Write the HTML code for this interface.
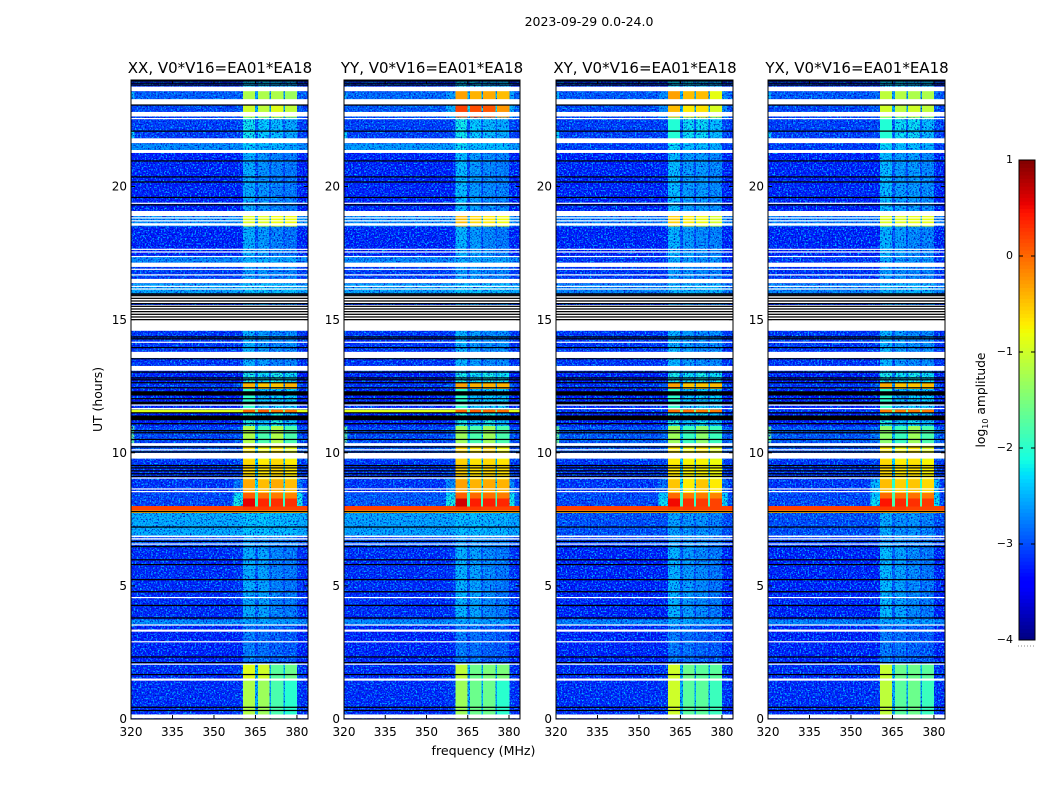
<!DOCTYPE html>
<html lang="en">
<head>
<meta charset="utf-8">
<title>2023-09-29 0.0-24.0</title>
<style>
html,body{margin:0;padding:0;background:#fff;}
svg{display:block;}
text{font-family:"DejaVu Sans","Liberation Sans",sans-serif;fill:#000;}
</style>
</head>
<body>
<svg id="chart" xmlns="http://www.w3.org/2000/svg" width="1050" height="800" viewBox="0 0 1050 800">
  <defs id="defs"></defs>
  <rect width="1050" height="800" fill="#fff"/>
  <text x="589" y="26" text-anchor="middle" font-size="12.5">2023-09-29 0.0-24.0</text>
  <text x="220" y="73" text-anchor="middle" font-size="15">XX, V0*V16=EA01*EA18</text>
  <text x="432" y="73" text-anchor="middle" font-size="15">YY, V0*V16=EA01*EA18</text>
  <text x="645" y="73" text-anchor="middle" font-size="15">XY, V0*V16=EA01*EA18</text>
  <text x="857" y="73" text-anchor="middle" font-size="15">YX, V0*V16=EA01*EA18</text>
  <text x="0" y="0" transform="translate(102,399.5) rotate(-90)" text-anchor="middle" font-size="12.4">UT (hours)</text>
  <text x="483.5" y="755" text-anchor="middle" font-size="12.6">frequency (MHz)</text>
  <text x="0" y="0" transform="translate(985,400) rotate(-90)" text-anchor="middle" font-size="12.3">log<tspan font-size="8" dy="3">10</tspan><tspan dy="-3"> amplitude</tspan></text>
  <g id="panels"></g>
  <g id="colorbar"></g>
</svg>
<script>
// ---- Data (UT hours, MHz, log10 amplitude) ----
const bandEdgesUT = [0,1.45,2.06,3.55,3.75,6.5,6.9,7.75,7.85,8.0,8.3,8.5,9.0,9.75,10.3,11.0,11.53,11.63,12.4,12.65,13.05,14.58,16.0,16.37,17.14,17.4,18.5,18.95,21.37,21.63,22.6,23.08,23.58,24];
const channelEdgesMHz = [320,357,360.5,364.8,365.9,369.9,370.6,375,375.6,380,382,384];
// which entry of a band row each channel group reads: bg, shoulder, gap, sub-band 1..4
const channelSeries = [0,1,3,2,4,2,5,2,6,1,0];
// band rows: [bg, shoulder, gap, sub1, sub2, sub3, sub4]
const levelsXX = [
[-3.25,-3.2,-2.5,-1.2,-1.3,-1.8,-2.0],[-3.25,-3.2,-2.4,-0.9,-1.0,-1.7,-1.6],[-3.3,-3.3,-3.1,-2.8,-2.85,-2.95,-3.0],[-2.7,-2.7,-2.65,-2.55,-2.55,-2.6,-2.6],
[-3.25,-3.2,-3.0,-2.5,-2.55,-2.75,-2.8],[-3.05,-3.05,-2.95,-2.6,-2.65,-2.75,-2.8],[-2.5,-2.5,-2.45,-2.35,-2.35,-2.4,-2.4],[-0.4,-0.4,-0.4,-0.4,-0.4,-0.4,-0.4],
[0.2,0.2,0.2,0.25,0.25,0.2,0.2],[-3.1,-2.1,-1.9,0.55,0.35,0.3,0.3],[-3.1,-2.2,-1.9,0.05,-0.05,-0.1,-0.15],[-3.2,-2.8,-2.2,-0.35,-0.45,-0.35,-0.45],[-3.2,-3.1,-2.3,-0.6,-0.7,-0.6,-0.7],
[-3.0,-3.0,-2.3,-0.7,-0.8,-0.7,-0.9],[-3.1,-3.0,-2.4,-1.2,-1.8,-1.2,-1.8],[-3.3,-3.3,-2.9,-2.1,-2.4,-2.1,-2.4],[-0.9,-0.9,-1.5,0.0,0.05,-0.1,-0.1],
[-3.3,-3.3,-2.9,-2.0,-2.4,-2.3,-2.3],[-3.2,-3.0,-2.6,-0.4,-0.5,-0.5,-0.4],[-3.3,-3.3,-2.8,-2.1,-2.2,-2.1,-2.2],[-3.2,-3.2,-3.0,-2.5,-2.6,-2.75,-2.7],
[-3.2,-3.2,-3.0,-2.6,-2.6,-2.75,-2.7],[-2.55,-2.55,-2.5,-2.35,-2.35,-2.4,-2.4],[-3.15,-3.15,-3.0,-2.6,-2.65,-2.75,-2.75],[-2.75,-2.75,-2.7,-2.5,-2.5,-2.55,-2.55],
[-3.3,-3.3,-3.05,-2.5,-2.6,-2.75,-2.85],[-2.7,-2.7,-2.55,-0.9,-0.9,-0.8,-0.8],[-3.3,-3.3,-3.05,-2.5,-2.65,-2.75,-2.8],[-2.7,-2.7,-2.6,-2.3,-2.45,-2.45,-2.55],
[-3.15,-3.1,-2.95,-2.15,-2.3,-2.4,-2.5],[-3.1,-3.0,-2.5,-1.0,-1.1,-0.9,-1.1],[-2.95,-2.95,-2.6,-1.2,-1.2,-1.2,-1.3],[-3.2,-3.2,-2.9,-2.3,-2.3,-2.45,-2.45]];
const levelsYY = [
[-3.25,-3.2,-2.5,-1.3,-1.6,-1.6,-2.0],[-3.25,-3.2,-2.4,-1.1,-1.6,-1.5,-1.5],[-3.3,-3.3,-3.1,-2.8,-2.85,-2.95,-3.0],[-2.7,-2.7,-2.65,-2.55,-2.55,-2.6,-2.6],
[-3.25,-3.2,-3.0,-2.45,-2.55,-2.7,-2.8],[-3.05,-3.05,-2.95,-2.6,-2.65,-2.75,-2.8],[-2.55,-2.55,-2.5,-2.4,-2.4,-2.45,-2.45],[-0.4,-0.4,-0.4,-0.4,-0.4,-0.4,-0.4],
[0.2,0.2,0.2,0.25,0.25,0.2,0.2],[-3.0,-2.1,-1.9,0.65,0.4,0.4,0.35],[-3.0,-2.2,-1.9,0.05,0.0,-0.05,-0.1],[-3.2,-2.7,-2.2,-0.3,-0.4,-0.35,-0.4],[-3.2,-3.1,-2.3,-0.55,-0.65,-0.6,-0.65],
[-3.0,-3.0,-2.3,-0.6,-0.7,-0.6,-0.8],[-3.1,-3.0,-2.4,-1.3,-1.8,-1.3,-1.8],[-3.3,-3.3,-2.9,-2.1,-2.4,-2.1,-2.4],[-0.9,-0.9,-1.5,0.0,0.05,-0.05,-0.05],
[-3.3,-3.3,-2.9,-2.0,-2.4,-2.3,-2.3],[-3.2,-3.0,-2.6,-0.3,-0.4,-0.4,-0.4],[-3.3,-3.3,-2.8,-2.1,-2.2,-2.1,-2.2],[-3.2,-3.2,-3.0,-2.45,-2.6,-2.7,-2.7],
[-3.2,-3.2,-3.0,-2.6,-2.6,-2.75,-2.7],[-2.55,-2.55,-2.5,-2.35,-2.35,-2.4,-2.4],[-3.15,-3.15,-3.0,-2.6,-2.65,-2.75,-2.75],[-2.75,-2.75,-2.7,-2.5,-2.5,-2.55,-2.55],
[-3.3,-3.3,-3.05,-2.45,-2.6,-2.7,-2.8],[-2.7,-2.7,-2.45,-0.45,-0.6,-0.7,-0.8],[-3.3,-3.3,-3.05,-2.4,-2.6,-2.7,-2.75],[-2.6,-2.6,-2.5,-2.2,-2.4,-2.4,-2.4],
[-3.15,-3.1,-2.95,-2.15,-2.3,-2.4,-2.5],[-3.0,-2.5,-2.2,0.2,0.15,0.1,-0.25],[-2.9,-2.6,-2.4,-0.3,-0.4,-0.35,-0.45],[-3.2,-3.2,-2.9,-2.3,-2.3,-2.45,-2.45]];
const levelsXY = [
[-3.25,-3.2,-2.5,-1.0,-1.7,-1.7,-1.9],[-3.25,-3.2,-2.4,-1.0,-1.6,-1.7,-1.7],[-3.3,-3.3,-3.1,-2.8,-2.85,-2.95,-3.0],[-2.75,-2.75,-2.7,-2.55,-2.55,-2.6,-2.6],
[-3.3,-3.3,-3.0,-2.45,-2.6,-2.7,-2.8],[-3.15,-3.15,-3.0,-2.6,-2.65,-2.75,-2.8],[-3.05,-3.05,-2.95,-2.55,-2.65,-2.65,-2.75],[-0.4,-0.4,-0.4,-0.4,-0.4,-0.4,-0.4],
[0.2,0.2,0.2,0.25,0.25,0.2,0.2],[-3.1,-2.2,-1.9,0.5,0.3,0.25,0.2],[-3.1,-2.3,-1.9,0.0,-0.1,-0.1,-0.15],[-3.2,-2.9,-2.2,-0.5,-0.7,-0.5,-0.7],[-3.2,-3.1,-2.3,-0.7,-0.75,-0.75,-0.8],
[-3.0,-3.0,-2.3,-0.7,-0.8,-0.7,-0.9],[-3.0,-2.9,-2.4,-1.3,-1.9,-1.4,-1.9],[-3.3,-3.3,-2.9,-2.1,-2.4,-2.2,-2.4],[-3.2,-3.2,-1.5,-0.05,-0.05,-0.1,-0.1],
[-3.3,-3.3,-2.9,-2.0,-2.4,-2.3,-2.3],[-3.2,-3.0,-2.6,-0.3,-0.5,-0.5,-0.45],[-3.3,-3.3,-2.8,-2.1,-2.2,-2.1,-2.2],[-3.2,-3.2,-3.0,-2.45,-2.6,-2.7,-2.7],
[-3.2,-3.2,-3.0,-2.6,-2.6,-2.75,-2.7],[-2.75,-2.75,-2.6,-2.45,-2.45,-2.45,-2.45],[-3.2,-3.2,-3.0,-2.6,-2.65,-2.75,-2.75],[-3.2,-3.2,-3.0,-2.5,-2.6,-2.65,-2.65],
[-3.3,-3.3,-3.05,-2.45,-2.6,-2.7,-2.75],[-2.8,-2.8,-2.55,-0.55,-0.7,-0.8,-0.95],[-3.3,-3.3,-3.05,-2.4,-2.6,-2.6,-2.7],[-3.15,-3.15,-2.95,-2.25,-2.4,-2.4,-2.5],
[-3.15,-3.1,-2.95,-2.05,-2.2,-2.2,-2.4],[-3.1,-2.7,-2.4,-0.45,-0.7,-0.65,-0.95],[-3.0,-2.7,-2.5,-0.3,-0.45,-0.45,-0.85],[-3.2,-3.2,-2.9,-2.3,-2.3,-2.45,-2.45]];
const levelsYX = [
[-3.25,-3.2,-2.5,-1.1,-1.7,-1.6,-1.9],[-3.25,-3.2,-2.4,-1.05,-1.6,-1.6,-1.7],[-3.3,-3.3,-3.1,-2.8,-2.85,-2.95,-3.0],[-2.75,-2.75,-2.7,-2.55,-2.55,-2.6,-2.6],
[-3.3,-3.3,-3.0,-2.4,-2.55,-2.7,-2.8],[-3.15,-3.15,-3.0,-2.6,-2.65,-2.75,-2.8],[-3.05,-3.05,-2.95,-2.5,-2.65,-2.65,-2.75],[-0.4,-0.4,-0.4,-0.4,-0.4,-0.4,-0.4],
[0.2,0.2,0.2,0.25,0.25,0.2,0.2],[-3.1,-2.2,-1.8,0.45,0.35,0.3,0.25],[-3.1,-2.3,-1.8,0.0,-0.05,-0.05,-0.1],[-3.2,-2.4,-2.0,-0.45,-0.55,-0.5,-0.6],[-3.2,-3.1,-2.3,-0.6,-0.7,-0.65,-0.75],
[-3.0,-3.0,-2.3,-0.7,-0.8,-0.7,-0.9],[-3.0,-2.8,-2.4,-1.4,-1.9,-1.3,-1.8],[-3.3,-3.3,-2.9,-2.1,-2.4,-2.2,-2.4],[-3.2,-3.2,-1.5,-0.1,-0.1,-0.1,-0.1],
[-3.3,-3.3,-2.9,-2.0,-2.4,-2.3,-2.3],[-3.2,-3.0,-2.6,-0.35,-0.5,-0.5,-0.45],[-3.3,-3.3,-2.8,-2.1,-2.2,-2.1,-2.2],[-3.2,-3.2,-3.0,-2.45,-2.6,-2.7,-2.7],
[-3.2,-3.2,-3.0,-2.6,-2.6,-2.75,-2.7],[-2.75,-2.75,-2.6,-2.45,-2.45,-2.45,-2.45],[-3.2,-3.2,-3.0,-2.6,-2.65,-2.75,-2.75],[-3.2,-3.2,-3.0,-2.5,-2.6,-2.65,-2.65],
[-3.3,-3.3,-3.05,-2.45,-2.6,-2.7,-2.75],[-2.8,-2.8,-2.55,-0.9,-0.9,-0.85,-0.85],[-3.3,-3.3,-3.05,-2.4,-2.6,-2.6,-2.7],[-3.15,-3.15,-2.95,-2.25,-2.4,-2.4,-2.5],
[-3.15,-3.1,-2.95,-2.05,-2.2,-2.2,-2.4],[-3.1,-3.0,-2.5,-1.0,-1.1,-1.0,-1.1],[-3.0,-2.9,-2.6,-1.1,-1.15,-1.2,-1.2],[-3.2,-3.2,-2.9,-2.3,-2.3,-2.45,-2.45]];
// bright low-frequency edge channels: [utLow, utHigh, level]
const edgeBands = [[10.3,11.0,-1.6],[21.75,22.1,-2.3],[23.3,23.55,-2.5]];
// flagged (blank) integrations: [utLow, utHigh]
const blankSpans = [[0.03,0.17],[1.44,1.52],[3.28,3.36],[6.83,6.89],[6.74,6.79],[9.78,9.99],[10.26,10.36],[13.08,13.26],[13.56,13.79],[14.58,15.55],[15.62,15.93],[16.37,16.53],[16.98,17.14],[18.53,18.62],[18.89,19.08],[21.26,21.37],[21.63,21.81],[22.63,22.80],[23.08,23.28],[23.58,23.75]];
const blankLines = [2.06,2.90,3.53,4.56,6.57,8.54,8.64,9.05,10.11,11.66,11.79,14.15,16.15,16.25,16.68,16.89,17.37,17.54,17.64,18.71,18.82,19.37,22.55];
// zero-valued integrations drawn black
const zeroSpans = [[3.77,3.82],[4.24,4.29],[5.21,5.26],[6.45,6.50],[11.22,11.40],[11.82,11.92],[12.15,12.31],[13.51,13.55],[15.93,15.99]];
const zeroLines = [0.32,0.44,1.67,2.12,2.33,4.78,5.80,5.98,6.67,7.21,7.79,9.11,9.21,9.32,9.43,9.52,10.03,10.22,10.50,10.75,10.83,11.09,11.50,12.03,12.44,12.63,12.74,12.81,13.03,13.95,14.28,14.35,15.0,15.1,15.2,15.3,15.4,15.5,15.6,15.7,15.8,15.9,19.31,19.59,20.17,20.36,20.96,22.08,23.06,23.81,23.88,23.96];
// axes
const freqTicks = [320,335,350,365,380];
const utTicks = [0,5,10,15,20];
const cbarTicks = [-4,-3,-2,-1,0,1];
const cbarTickLabels = ['\u22124','\u22123','\u22122','\u22121','0','1'];

// ---- Scales ----
const NS = 'http://www.w3.org/2000/svg';
const plotTop = 80, plotBottom = 719;
const freqMin = 320, freqMax = 384, utMin = 0, utMax = 24;
const cbarMin = -4, cbarMax = 1, cbarX0 = 1019, cbarX1 = 1035, cbarY0 = 640, cbarY1 = 160;
const brightCutoff = -2.1;
const panelDefs = [
  {key:'xx', x0:131, x1:308, levels:levelsXX, seed:3},
  {key:'yy', x0:344, x1:520, levels:levelsYY, seed:11},
  {key:'xy', x0:556, x1:733, levels:levelsXY, seed:23},
  {key:'yx', x0:768, x1:945, levels:levelsYX, seed:41}
];
function yOfUT(u){ return plotBottom - (u - utMin) / (utMax - utMin) * (plotBottom - plotTop); }
function xOfFreq(p, f){ return p.x0 + (f - freqMin) / (freqMax - freqMin) * (p.x1 - p.x0); }
function yOfCbar(v){ return cbarY0 + (v - cbarMin) / (cbarMax - cbarMin) * (cbarY1 - cbarY0); }
function ramp(t, pts){
  for (let i = 1; i < pts.length; i++) {
    if (t <= pts[i][0]) {
      const a = pts[i-1], b = pts[i];
      return a[1] + (b[1] - a[1]) * (t - a[0]) / (b[0] - a[0]);
    }
  }
  return pts[pts.length-1][1];
}
function jet(v){
  const t = Math.max(0, Math.min(1, (v - cbarMin) / (cbarMax - cbarMin)));
  const r = ramp(t, [[0,0],[.35,0],[.66,1],[.89,1],[1,.5]]);
  const g = ramp(t, [[0,0],[.125,0],[.375,1],[.64,1],[.91,0],[1,0]]);
  const b = ramp(t, [[0,.5],[.11,1],[.34,1],[.65,0],[1,0]]);
  return 'rgb(' + Math.round(r*255) + ',' + Math.round(g*255) + ',' + Math.round(b*255) + ')';
}
function setAttrs(el, attrs){ for (const k in attrs) el.setAttribute(k, attrs[k]); }

// ---- Grain texture filters ----
const defs = document.getElementById('defs');
function addGrain(id, seed, matrix){
  const f = document.createElementNS(NS, 'filter');
  setAttrs(f, {id:id, x:0, y:0, width:'100%', height:'100%', 'color-interpolation-filters':'sRGB'});
  const t = document.createElementNS(NS, 'feTurbulence');
  setAttrs(t, {type:'fractalNoise', baseFrequency:0.62, numOctaves:2, seed:seed});
  f.appendChild(t);
  const m = document.createElementNS(NS, 'feColorMatrix');
  setAttrs(m, {type:'matrix', values:matrix});
  f.appendChild(m);
  defs.appendChild(f);
}

// ---- Panels ----
const panelsRoot = document.getElementById('panels');
panelDefs.forEach(function(p){
  addGrain('grain-hi-' + p.key, p.seed, '0 0 0 0 0  0 0 0 0 0.75  0 0 0 0 1  4 0 0 0 -1.9');
  addGrain('grain-lo-' + p.key, p.seed + 1, '0 0 0 0 0  0 0 0 0 0  0 0 0 0 0.75  0 3.5 0 0 -1.75');

  const g = document.createElementNS(NS, 'g');
  
  
  panelsRoot.appendChild(g);

  const w = p.x1 - p.x0;
  const brightCells = [];
  // heatmap cells
  for (let b = 0; b < p.levels.length; b++) {
    const yTop = yOfUT(bandEdgesUT[b+1]), yBot = yOfUT(bandEdgesUT[b]);
    for (let c = 0; c < channelSeries.length; c++) {
      const x0 = xOfFreq(p, channelEdgesMHz[c]), x1 = xOfFreq(p, channelEdgesMHz[c+1]);
      const level = p.levels[b][channelSeries[c]];
      const cell = document.createElementNS(NS, 'rect');
      
      
      setAttrs(cell, {x:x0, y:yTop, width:x1-x0+0.3, height:yBot-yTop+0.3, fill:jet(level), 'shape-rendering':'crispEdges'});
      if (level > brightCutoff) { brightCells.push(cell); } else { g.appendChild(cell); }
    }
  }
  edgeBands.forEach(function(e){
    const cell = document.createElementNS(NS, 'rect');
    
    
    setAttrs(cell, {x:p.x0, y:yOfUT(e[1]), width:xOfFreq(p, 321.2)-p.x0, height:yOfUT(e[0])-yOfUT(e[1]), fill:jet(e[2])});
    g.appendChild(cell);
  });
  // grain overlays on quiet cells
  const grainHi = document.createElementNS(NS, 'rect');
  
  
  setAttrs(grainHi, {x:p.x0, y:plotTop, width:w, height:plotBottom-plotTop, filter:'url(#grain-hi-' + p.key + ')'});
  g.appendChild(grainHi);
  const grainLo = document.createElementNS(NS, 'rect');
  
  
  setAttrs(grainLo, {x:p.x0, y:plotTop, width:w, height:plotBottom-plotTop, filter:'url(#grain-lo-' + p.key + ')'});
  g.appendChild(grainLo);
  brightCells.forEach(function(cell){ g.appendChild(cell); });
  // flagged rows
  blankSpans.forEach(function(s){
    const r = document.createElementNS(NS, 'rect');
    
    
    setAttrs(r, {x:p.x0, y:yOfUT(s[1]), width:w, height:yOfUT(s[0])-yOfUT(s[1]), fill:'#fff'});
    g.appendChild(r);
  });
  blankLines.forEach(function(u){
    const r = document.createElementNS(NS, 'rect');
    
    
    setAttrs(r, {x:p.x0, y:yOfUT(u)-0.6, width:w, height:1.2, fill:'#fff'});
    g.appendChild(r);
  });
  zeroSpans.forEach(function(s){
    const r = document.createElementNS(NS, 'rect');
    
    
    setAttrs(r, {x:p.x0, y:yOfUT(s[1]), width:w, height:yOfUT(s[0])-yOfUT(s[1]), fill:'#000'});
    g.appendChild(r);
  });
  zeroLines.forEach(function(u){
    const r = document.createElementNS(NS, 'rect');
    
    
    setAttrs(r, {x:p.x0, y:yOfUT(u)-0.62, width:w, height:1.25, fill:'#000'});
    g.appendChild(r);
  });
  // frame
  const frame = document.createElementNS(NS, 'rect');
  
  
  setAttrs(frame, {x:p.x0, y:plotTop, width:w, height:plotBottom-plotTop, fill:'none', stroke:'#000', 'stroke-width':1});
  g.appendChild(frame);
  // x ticks
  freqTicks.forEach(function(f){
    const x = xOfFreq(p, f);
    const t1 = document.createElementNS(NS, 'line');
    
    
    setAttrs(t1, {x1:x, x2:x, y1:plotBottom, y2:plotBottom-4, stroke:'#000'});
    g.appendChild(t1);
    const t2 = document.createElementNS(NS, 'line');
    
    
    setAttrs(t2, {x1:x, x2:x, y1:plotTop, y2:plotTop+4, stroke:'#000'});
    g.appendChild(t2);
    const label = document.createElementNS(NS, 'text');
    
    
    setAttrs(label, {x:x, y:plotBottom+17, 'text-anchor':'middle', 'font-size':12});
    label.textContent = String(f);
    g.appendChild(label);
  });
  // y ticks
  utTicks.forEach(function(u){
    const y = yOfUT(u);
    const t1 = document.createElementNS(NS, 'line');
    
    
    setAttrs(t1, {x1:p.x0, x2:p.x0+4, y1:y, y2:y, stroke:'#000'});
    g.appendChild(t1);
    const t2 = document.createElementNS(NS, 'line');
    
    
    setAttrs(t2, {x1:p.x1, x2:p.x1-4, y1:y, y2:y, stroke:'#000'});
    g.appendChild(t2);
    const label = document.createElementNS(NS, 'text');
    
    
    setAttrs(label, {x:p.x0-4, y:y+4.2, 'text-anchor':'end', 'font-size':12});
    label.textContent = String(u);
    g.appendChild(label);
  });
});

// ---- Colorbar ----
const cbar = document.getElementById('colorbar');
const cbarSteps = 128;
for (let i = 0; i < cbarSteps; i++) {
  const v0 = cbarMin + (cbarMax - cbarMin) * i / cbarSteps;
  const v1 = cbarMin + (cbarMax - cbarMin) * (i + 1) / cbarSteps;
  const seg = document.createElementNS(NS, 'rect');
  
  
  setAttrs(seg, {x:cbarX0, y:yOfCbar(v1), width:cbarX1-cbarX0, height:yOfCbar(v0)-yOfCbar(v1)+0.4, fill:jet((v0+v1)/2)});
  cbar.appendChild(seg);
}
const cbarFrame = document.createElementNS(NS, 'rect');


setAttrs(cbarFrame, {x:cbarX0, y:cbarY1, width:cbarX1-cbarX0, height:cbarY0-cbarY1, fill:'none', stroke:'#000'});
cbar.appendChild(cbarFrame);
cbarTicks.forEach(function(v, i){
  const y = yOfCbar(v);
  const t1 = document.createElementNS(NS, 'line');
  
  
  setAttrs(t1, {x1:cbarX0, x2:cbarX0+4, y1:y, y2:y, stroke:'#000'});
  cbar.appendChild(t1);
  const t2 = document.createElementNS(NS, 'line');
  
  
  setAttrs(t2, {x1:cbarX1, x2:cbarX1-4, y1:y, y2:y, stroke:'#000'});
  cbar.appendChild(t2);
  const label = document.createElementNS(NS, 'text');
  
  
  setAttrs(label, {x:cbarX0-6, y:y+3, 'text-anchor':'end', 'font-size':11});
  label.textContent = cbarTickLabels[i];
  cbar.appendChild(label);
});
const cbarDots = document.createElementNS(NS, 'line');


setAttrs(cbarDots, {x1:cbarX0-1, x2:cbarX1, y1:646, y2:646, stroke:'#888', 'stroke-width':1, 'stroke-dasharray':'1 2'});
cbar.appendChild(cbarDots);
</script>
</body>
</html>
